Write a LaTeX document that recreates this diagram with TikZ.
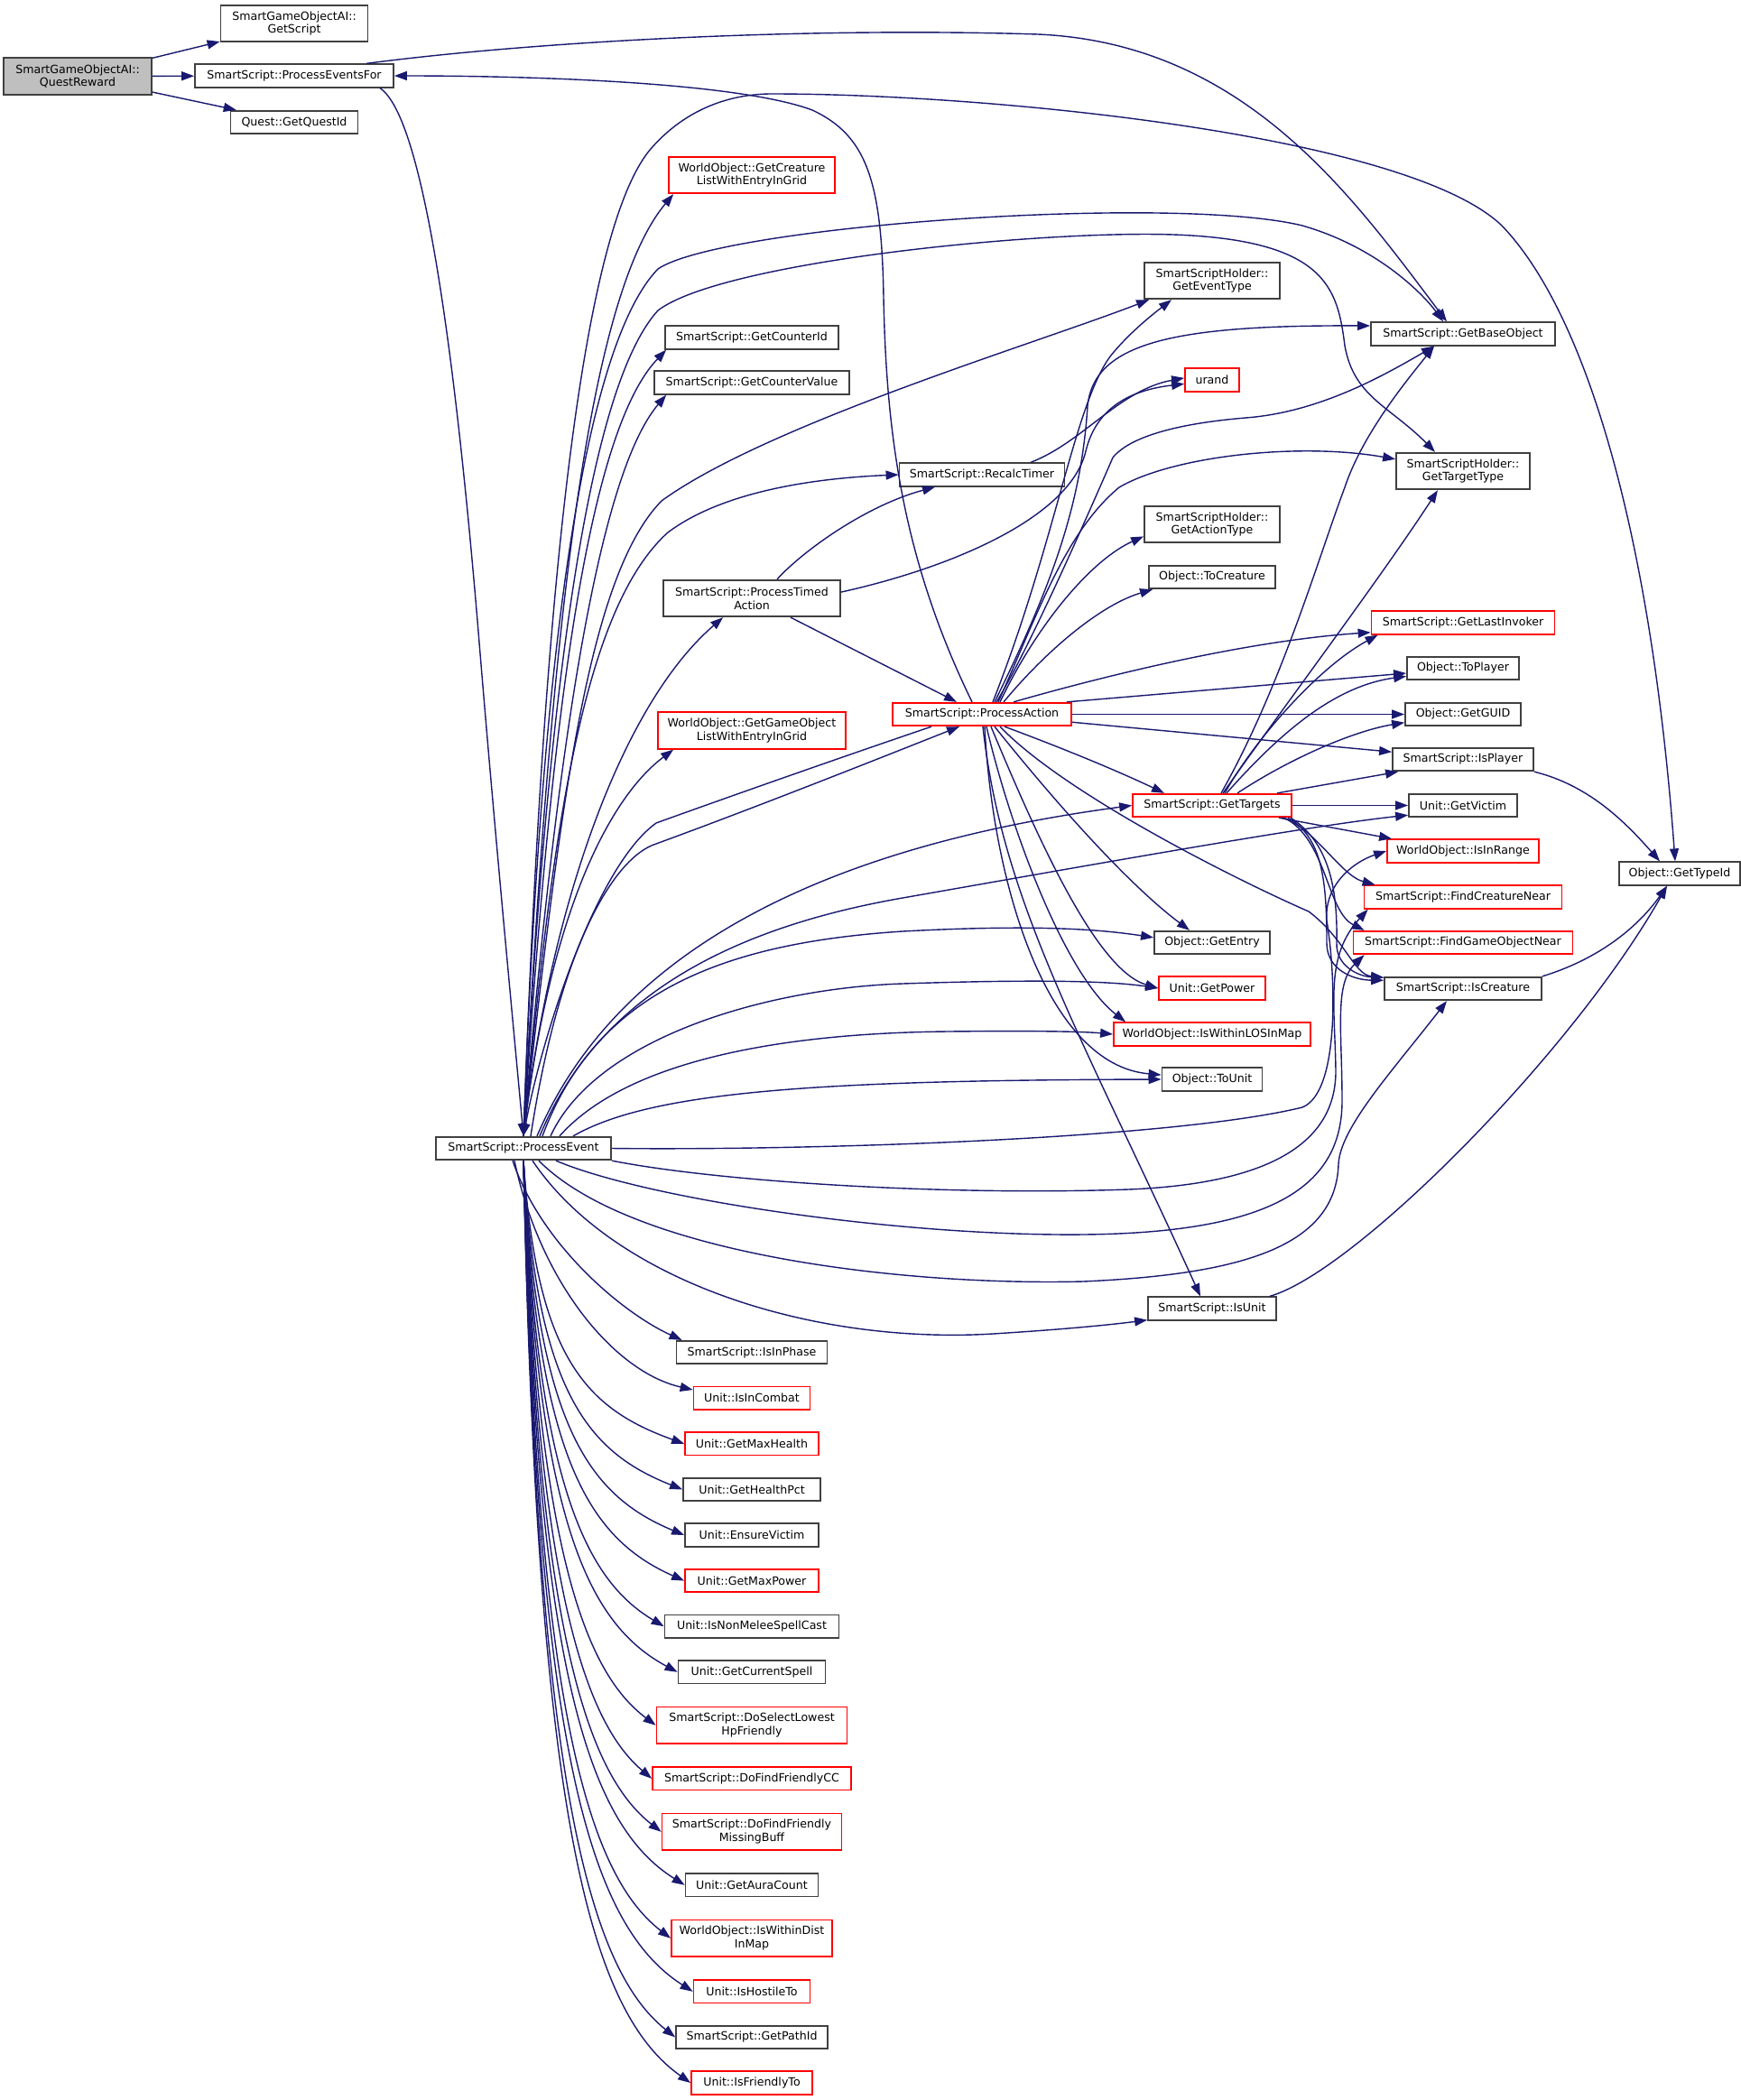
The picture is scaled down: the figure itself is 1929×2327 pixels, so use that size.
\documentclass[tikz,border=0pt]{standalone}
\usepackage{fontspec}
\setmainfont{DejaVu Sans}
\usetikzlibrary{arrows.meta}

\definecolor{callblue}{HTML}{191970}
\definecolor{framegray}{HTML}{404040}
\definecolor{rootgray}{HTML}{BFBFBF}

\tikzset{
  fn/.style={draw=framegray, line width=1.8pt, fill=white, inner sep=0pt,
    minimum height=25.5pt, align=center, font=\fontsize{12.6}{14.7}\selectfont},
  cut/.style={fn, draw=red},
  two/.style={minimum height=40.5pt},
  call/.style={draw=callblue, line width=1.4pt, -{Triangle[length=14pt,width=10pt]}},
}

\begin{document}
\begin{tikzpicture}[x=1pt,y=-1pt]
  \useasboundingbox (0,0) rectangle (1929,2327);

  \node[fn,two,fill=rootgray,minimum width=164pt] (qr) at (86,84.5) {SmartGameObjectAI::\\QuestReward};
  \node[fn,two,minimum width=163pt] (gs) at (326,26) {SmartGameObjectAI::\\GetScript};
  \node[fn,minimum width=220pt] (pef) at (326,84) {SmartScript::ProcessEventsFor};
  \node[fn,minimum width=141pt] (gqi) at (326,135.5) {Quest::GetQuestId};

  \node[cut,two,minimum width=184pt] (gcl) at (833,194) {WorldObject::GetCreature\\ListWithEntryInGrid};
  \node[fn,minimum width=192pt] (gci) at (833,374) {SmartScript::GetCounterId};
  \node[fn,minimum width=216pt] (gcv) at (833,424) {SmartScript::GetCounterValue};
  \node[fn,two,minimum width=196pt] (pta) at (833,663) {SmartScript::ProcessTimed\\Action};
  \node[cut,two,minimum width=208pt] (ggl) at (833,809.5) {WorldObject::GetGameObject\\ListWithEntryInGrid};
  \node[fn,minimum width=194pt] (pe) at (580,1272.5) {SmartScript::ProcessEvent};

  \node[fn,minimum width=183pt] (rt) at (1088,526) {SmartScript::RecalcTimer};
  \node[cut,minimum width=198pt] (pa) at (1088,791.5) {SmartScript::ProcessAction};

  \node[fn,two,minimum width=150pt] (get) at (1343,311) {SmartScriptHolder::\\GetEventType};
  \node[cut,minimum width=60pt] (ur) at (1343,421) {urand};
  \node[fn,two,minimum width=150pt] (gat) at (1343,581) {SmartScriptHolder::\\GetActionType};
  \node[fn,minimum width=140pt] (tc) at (1343,639.5) {Object::ToCreature};
  \node[cut,minimum width=176pt] (gt) at (1343,892.5) {SmartScript::GetTargets};
  \node[fn,minimum width=128pt] (ge) at (1343,1044.5) {Object::GetEntry};
  \node[cut,minimum width=118pt] (gp) at (1343,1095) {Unit::GetPower};
  \node[cut,minimum width=218pt] (los) at (1343,1146) {WorldObject::IsWithinLOSInMap};
  \node[fn,minimum width=111pt] (tu) at (1343,1196) {Object::ToUnit};
  \node[fn,minimum width=142pt] (iu) at (1343,1450) {SmartScript::IsUnit};

  \node[fn,minimum width=204pt] (gbo) at (1621,370) {SmartScript::GetBaseObject};
  \node[fn,two,minimum width=148pt] (gtt) at (1621,522) {SmartScriptHolder::\\GetTargetType};
  \node[cut,minimum width=203pt] (gli) at (1621,690) {SmartScript::GetLastInvoker};
  \node[fn,minimum width=124pt] (tp) at (1621,740.5) {Object::ToPlayer};
  \node[fn,minimum width=128pt] (gg) at (1621,791.5) {Object::GetGUID};
  \node[fn,minimum width=156pt] (ip) at (1621,841.5) {SmartScript::IsPlayer};
  \node[fn,minimum width=120pt] (gv) at (1621,892.5) {Unit::GetVictim};
  \node[cut,minimum width=168pt] (iir) at (1621,943) {WorldObject::IsInRange};
  \node[cut,minimum width=219pt] (fcn) at (1621,994) {SmartScript::FindCreatureNear};
  \node[cut,minimum width=243pt] (fgn) at (1621,1044.5) {SmartScript::FindGameObjectNear};
  \node[fn,minimum width=174pt] (ic) at (1621,1095.5) {SmartScript::IsCreature};
  \node[fn,minimum width=134pt] (gti) at (1861,968) {Object::GetTypeId};

  \node[fn,minimum width=167pt] (iph) at (833,1498.6) {SmartScript::IsInPhase};
  \node[cut,minimum width=129pt] (iic) at (833,1549.2) {Unit::IsInCombat};
  \node[cut,minimum width=148pt] (gmh) at (833,1599.8) {Unit::GetMaxHealth};
  \node[fn,minimum width=152pt] (ghp) at (833,1650.4) {Unit::GetHealthPct};
  \node[fn,minimum width=148pt] (ev) at (833,1701) {Unit::EnsureVictim};
  \node[cut,minimum width=148pt] (gmp) at (833,1751.6) {Unit::GetMaxPower};
  \node[fn,minimum width=193pt] (inm) at (833,1802.2) {Unit::IsNonMeleeSpellCast};
  \node[fn,minimum width=163pt] (gcs) at (833,1852.8) {Unit::GetCurrentSpell};
  \node[cut,two,minimum width=211pt] (dsl) at (833,1911.8) {SmartScript::DoSelectLowest\\HpFriendly};
  \node[cut,minimum width=220pt] (dfc) at (833,1970.8) {SmartScript::DoFindFriendlyCC};
  \node[cut,two,minimum width=199pt] (dfm) at (833,2029.8) {SmartScript::DoFindFriendly\\MissingBuff};
  \node[fn,minimum width=147pt] (gac) at (833,2088.8) {Unit::GetAuraCount};
  \node[cut,two,minimum width=178pt] (iwd) at (833,2147.8) {WorldObject::IsWithinDist\\InMap};
  \node[cut,minimum width=129pt] (iht) at (833,2206.8) {Unit::IsHostileTo};
  \node[fn,minimum width=168pt] (gpi) at (833,2257.4) {SmartScript::GetPathId};
  \node[cut,minimum width=134pt] (ift) at (833,2308) {Unit::IsFriendlyTo};

  \draw[call] (qr) -- (gs);
  \draw[call] (qr) -- (pef);
  \draw[call] (qr) -- (gqi);

  \draw[call] ([xshift=80pt]pef.north) .. controls (600,45) and (900,30) .. (1150,38)
    .. controls (1380,48) and (1500,220) .. ([xshift=-18pt]gbo.north);
  \draw[call] ([xshift=95pt]pef.south) .. controls (470,130) and (505,400) .. (530,700)
    .. controls (548,920) and (570,1150) .. (pe.north);
  \draw[call] ([xshift=-11pt]pa.north) .. controls (1000,620) and (982,480) .. (979,330)
    .. controls (977,200) and (960,150) .. (900,122) .. controls (820,92) and (600,84) .. (pef.east);

  \draw[call] (pe.north) .. controls (610,700) and (650,330) .. ([xshift=6pt]gcl.south west);
  \draw[call] (pe.north) .. controls (600,700) and (650,380) .. (729,298)
    .. controls (800,250) and (1300,215) .. (1443,250) .. controls (1530,275) and (1580,330) .. ([xshift=-22pt]gbo.north);
  \draw[call] (pe.north) .. controls (610,700) and (660,420) .. (729,344)
    .. controls (800,290) and (1150,255) .. (1300,260) .. controls (1470,266) and (1482,320) .. (1490,383)
    .. controls (1500,440) and (1540,450) .. ([xshift=-31pt]gtt.north);
  \draw[call] (pe.north) .. controls (620,900) and (650,640) .. (733,555)
    .. controls (850,470) and (1150,380) .. ([xshift=6pt]get.south west);
  \draw[call] (pe.north) .. controls (610,800) and (650,480) .. ([xshift=2pt]gci.south west);
  \draw[call] (pe.north) .. controls (615,850) and (660,530) .. ([xshift=14pt]gcv.south west);
  \draw[call] (pe.north) .. controls (610,950) and (640,680) .. (740,590)
    .. controls (800,545) and (900,530) .. (rt.west);
  \draw[call] (pe.north) .. controls (610,1000) and (690,780) .. ([xshift=67pt]pta.south west);
  \draw[call] (pe.north) .. controls (610,1000) and (680,880) .. ([xshift=18pt]ggl.south west);
  \draw[call] ([xshift=8pt]pe.north) .. controls (620,1050) and (680,950) .. (727,935)
    .. controls (850,890) and (1000,830) .. ([xshift=-25pt]pa.south);
  \draw[call] ([xshift=-56pt]pa.south) .. controls (900,850) and (760,900) .. (727,912)
    .. controls (660,960) and (600,1150) .. (pe.north);
  \draw[call] (pe.north) .. controls (600,700) and (640,260) .. (721,165)
    .. controls (760,120) and (810,104) .. (855,104) .. controls (1100,104) and (1560,150) .. (1664,250)
    .. controls (1760,350) and (1830,600) .. ([xshift=-5pt]gti.north);

  \draw[call] ([xshift=15pt]pe.north) .. controls (680,1060) and (900,940) .. (gt.west);
  \draw[call] ([xshift=18pt]pe.north) .. controls (660,1110) and (800,1030) .. (1000,995)
    .. controls (1200,960) and (1450,915) .. (gv.190);
  \draw[call] ([xshift=21pt]pe.north) .. controls (660,1100) and (800,1045) .. (1000,1032)
    .. controls (1150,1024) and (1220,1030) .. (ge.175);
  \draw[call] ([xshift=30pt]pe.north) .. controls (660,1150) and (850,1095) .. (1000,1090)
    .. controls (1150,1085) and (1230,1087) .. (gp.west);
  \draw[call] ([xshift=40pt]pe.north) .. controls (690,1180) and (850,1145) .. (1050,1143)
    .. controls (1150,1142) and (1200,1143) .. (los.west);
  \draw[call] ([xshift=55pt]pe.north) .. controls (720,1210) and (900,1197) .. (tu.west);

  \draw[call] (pe.east) .. controls (900,1275) and (1300,1262) .. (1443,1227)
    .. controls (1485,1210) and (1480,1080) .. (1470,1020) .. controls (1467,980) and (1500,955) .. (iir.west);
  \draw[call] (pe.south east) .. controls (800,1310) and (1050,1325) .. (1250,1318)
    .. controls (1400,1312) and (1480,1270) .. (1480,1187) .. controls (1479,1110) and (1468,1060) .. ([xshift=5pt]fcn.south west);
  \draw[call] ([xshift=36pt]pe.south) .. controls (720,1330) and (1000,1370) .. (1200,1368)
    .. controls (1400,1366) and (1487,1320) .. (1487,1220) .. controls (1487,1140) and (1478,1090) .. ([xshift=13pt]fgn.south west);
  \draw[call] ([xshift=17pt]pe.south) .. controls (700,1390) and (1000,1425) .. (1200,1420)
    .. controls (1380,1412) and (1480,1380) .. (1483,1290) .. controls (1485,1250) and (1540,1190) .. ([xshift=-18pt]ic.south);
  \draw[call] ([xshift=10pt]pe.south) .. controls (680,1420) and (900,1490) .. (1100,1478)
    .. controls (1180,1473) and (1230,1468) .. (iu.190);

  \draw[call] ([xshift=-12pt]pe.south) .. controls (600,1380) and (690,1455) .. (iph.170);
  \draw[call] ([xshift=-10pt]pe.south) .. controls (598,1420) and (680,1520) .. (iic.172);
  \foreach \n/\y in {gmh/1599.8, ghp/1650.4, ev/1701, gmp/1751.6, inm/1802.2, gcs/1852.8,
      dsl/1911.8, dfc/1970.8, dfm/2029.8, gac/2088.8, iwd/2147.8, iht/2206.8, gpi/2257.4, ift/2308}
    \draw[call] (pe.south) .. controls (595,{1285+0.7*(\y-1285)}) and (650,{\y-0.06*(\y-1285)-20}) .. (\n.west);

  \draw[call] ([xshift=28pt]pta.north) .. controls (890,610) and (960,560) .. ([xshift=-52pt]rt.south);
  \draw[call] (pta.4) .. controls (1050,630) and (1185,575) .. (1203,500)
    .. controls (1215,450) and (1255,432) .. (ur.188);
  \draw[call] ([xshift=43pt]pta.south) -- ([xshift=-28pt]pa.north);
  \draw[call] ([xshift=54pt]rt.north) .. controls (1200,490) and (1240,432) .. (ur.176);

  \draw[call] ([xshift=12pt]pa.north) .. controls (1170,600) and (1190,450) .. (1230,395)
    .. controls (1250,370) and (1275,350) .. ([xshift=-45pt]get.south);
  \draw[call] ([xshift=14pt]pa.north) .. controls (1165,650) and (1198,560) .. (1205,450)
    .. controls (1212,380) and (1300,360) .. (gbo.175);
  \draw[call] ([xshift=16pt]pa.north) .. controls (1140,720) and (1210,560) .. (1233,507)
    .. controls (1255,480) and (1320,468) .. (1380,463) .. controls (1460,457) and (1530,418) .. ([xshift=-32pt]gbo.south);
  \draw[call] ([xshift=18pt]pa.north) .. controls (1150,680) and (1180,590) .. (1240,540)
    .. controls (1300,505) and (1440,490) .. (gtt.170);
  \draw[call] ([xshift=20pt]pa.north) .. controls (1150,690) and (1210,620) .. (gat.190);
  \draw[call] ([xshift=24pt]pa.north) .. controls (1160,720) and (1220,670) .. ([xshift=5pt]tc.south west);
  \draw[call] ([xshift=35pt]pa.north) .. controls (1220,750) and (1380,710) .. (gli.186);
  \draw[call] ([xshift=-6pt]pa.north east) -- (tp.185);
  \draw[call] (pa) -- (gg);
  \draw[call] (pa.-5) -- (ip.174);
  \draw[call] ([xshift=25pt]pa.south) .. controls (1180,830) and (1240,855) .. ([xshift=-53pt]gt.north);
  \draw[call] ([xshift=14pt]pa.south) .. controls (1170,890) and (1250,980) .. ([xshift=-25pt]ge.north);
  \draw[call] ([xshift=10pt]pa.south) .. controls (1150,930) and (1215,1075) .. (gp.west);
  \draw[call] ([xshift=5pt]pa.south) .. controls (1120,920) and (1180,1080) .. ([xshift=14pt]los.north west);
  \draw[call] ([xshift=3pt]pa.south) .. controls (1100,980) and (1160,1180) .. (tu.175);
  \draw[call] ([xshift=1pt]pa.south) .. controls (1110,1000) and (1200,1150) .. ([xshift=-13pt]iu.north);
  \draw[call] ([xshift=20pt]pa.south) .. controls (1180,880) and (1370,975) .. (1450,1010)
    .. controls (1490,1040) and (1500,1080) .. (ic.172);

  \draw[call] ([xshift=10pt]gt.north) .. controls (1420,760) and (1460,620) .. (1490,540)
    .. controls (1510,480) and (1560,420) .. ([xshift=-32pt]gbo.south);
  \draw[call] ([xshift=12pt]gt.north) .. controls (1410,800) and (1530,640) .. ([xshift=-28pt]gtt.south);
  \draw[call] ([xshift=14pt]gt.north) .. controls (1390,820) and (1460,740) .. ([xshift=8pt]gli.south west);
  \draw[call] ([xshift=16pt]gt.north) .. controls (1420,810) and (1480,760) .. (tp.188);
  \draw[call] ([xshift=28pt]gt.north) .. controls (1430,840) and (1500,810) .. (gg.188);
  \draw[call] ([xshift=72pt]gt.north) -- ([xshift=7pt]ip.south west);
  \draw[call] (gt) -- (gv);
  \draw[call] ([xshift=74pt]gt.south) -- ([xshift=6pt]iir.north west);
  \draw[call] ([xshift=77pt]gt.south) .. controls (1455,915) and (1485,970) .. ([xshift=13pt]fcn.north west);
  \draw[call] ([xshift=80pt]gt.south) .. controls (1470,930) and (1470,1010) .. ([xshift=13pt]fgn.north west);
  \draw[call] ([xshift=87pt]gt.south) .. controls (1475,935) and (1482,990) .. (1481,1045)
    .. controls (1480,1070) and (1505,1082) .. (ic.172);
  \draw[call] ([xshift=84pt]gt.south) .. controls (1465,928) and (1470,975) .. (1470,1045)
    .. controls (1470,1075) and (1500,1086) .. (ic.174);

  \draw[call] (ip.south east) .. controls (1760,870) and (1800,910) .. ([xshift=-22pt]gti.north);
  \draw[call] (ic.north east) .. controls (1780,1060) and (1820,1020) .. ([xshift=-14pt]gti.south);
  \draw[call] ([xshift=-8pt]iu.north east) .. controls (1500,1410) and (1740,1170) .. ([xshift=-14pt]gti.south);
\end{tikzpicture}
\end{document}
